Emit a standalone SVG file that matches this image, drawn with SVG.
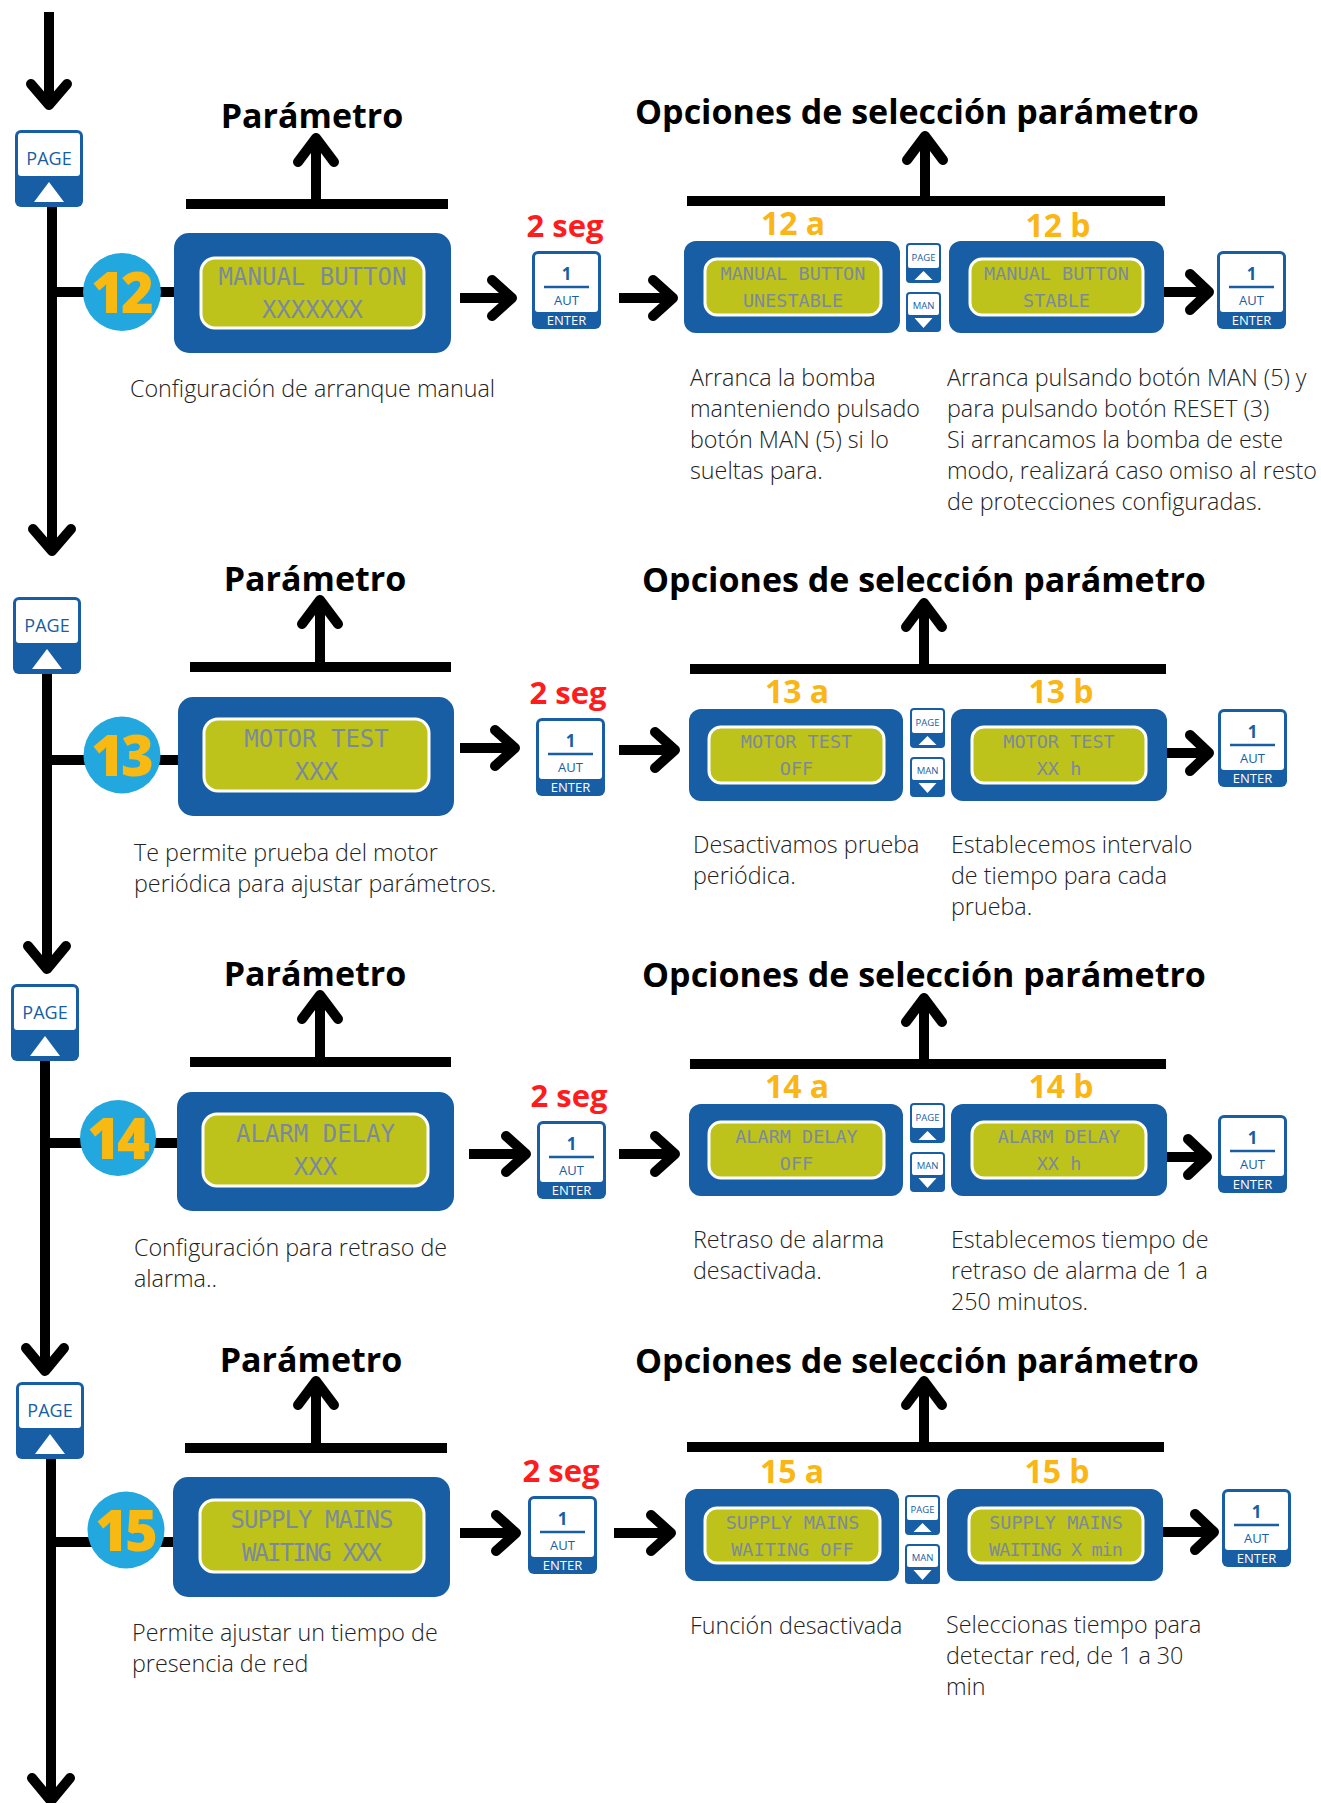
<svg xmlns="http://www.w3.org/2000/svg" xmlns:xlink="http://www.w3.org/1999/xlink" width="1321" height="1803" viewBox="0 0 1321 1803">
<style>
.ln{stroke:#000;stroke-width:10;fill:none}
.ah{stroke:#000;stroke-width:10;fill:none;stroke-linecap:round;stroke-linejoin:round}
.frame{fill:#175ea4}
.scr{fill:#bec31b;stroke:#fff;stroke-width:3}
.lcd{font-family:"DejaVu Sans Mono","Liberation Mono",monospace;fill:#7b8a9b;text-anchor:middle}
.big{font-size:24px}
.sm{font-size:18.5px}
.hdr{font-family:"Open Sans","Liberation Sans",sans-serif;font-weight:700;font-size:34px;text-anchor:middle;fill:#000}
.seg{font-family:"Open Sans","Liberation Sans",sans-serif;font-weight:700;font-size:31px;text-anchor:middle;fill:#ff1c1c}
.lab{font-family:"Open Sans","Liberation Sans",sans-serif;font-weight:700;font-size:32px;text-anchor:middle;fill:#f9b616}
.circ{fill:#22a8de}
.num{font-family:"Open Sans","Liberation Sans",sans-serif;font-weight:800;font-size:56px;text-anchor:middle;fill:#f7b912;letter-spacing:-3px}
.desc{font-family:"Open Sans","Liberation Sans",sans-serif;font-weight:300;font-size:23.3px;fill:#222}
.bt{font-family:"Open Sans","Liberation Sans",sans-serif;text-anchor:middle}
</style>
<defs>
<g id="pg">
<rect x="0" y="0" width="68" height="77" rx="6" fill="#175ea4"/>
<rect x="3" y="3" width="62" height="43" rx="3" fill="#fff"/>
<text class="bt" x="34" y="35" font-size="18" fill="#175ea4">PAGE</text>
<polygon points="34,52 49,72 19,72" fill="#fff"/>
</g>
<g id="ent">
<rect x="0" y="0" width="69" height="78" rx="6" fill="#175ea4"/>
<rect x="3" y="3" width="63" height="58" rx="3" fill="#fff"/>
<text class="bt" x="34.5" y="29" font-size="17" font-weight="700" fill="#175ea4">1</text>
<line x1="12" y1="36" x2="57" y2="36" stroke="#175ea4" stroke-width="2.5"/>
<text class="bt" x="34.5" y="54" font-size="13" fill="#175ea4">AUT</text>
<text class="bt" x="34.5" y="74" font-size="13" fill="#fff">ENTER</text>
</g>
<g id="spg">
<rect x="0" y="0" width="35" height="40" rx="4" fill="#175ea4"/>
<rect x="2" y="2" width="31" height="23" rx="2" fill="#fff"/>
<text class="bt" x="17.5" y="18" font-size="9.5" fill="#175ea4">PAGE</text>
<polygon points="17.5,28 26.5,37 8.5,37" fill="#fff"/>
</g>
<g id="sman">
<rect x="0" y="0" width="35" height="40" rx="4" fill="#175ea4"/>
<rect x="2" y="2" width="31" height="21" rx="2" fill="#fff"/>
<text class="bt" x="17.5" y="17" font-size="9.5" fill="#175ea4">MAN</text>
<polygon points="8.5,26 26.5,26 17.5,36" fill="#fff"/>
</g>
</defs>
<rect width="1321" height="1803" fill="#fff"/>

<g id="connectors">
<!-- section 12 -->
<path class="ln" d="M49,12 V104"/><path class="ah" d="M31,84 L49,105 L67,84"/>
<path class="ln" d="M52,207 V548"/><path class="ah" d="M33,529 L52,551 L71,529"/>
<path class="ln" d="M52,292 H176"/>
<path class="ln" d="M316,204 V140"/><path class="ah" d="M298,162 L316,138 L334,162"/>
<path class="ln" d="M186,204 H448"/>
<path class="ln" d="M460,298 H508"/><path class="ah" d="M492,280 L512,298 L492,316"/>
<path class="ln" d="M619,298 H669"/><path class="ah" d="M653,280 L673,298 L653,316"/>
<path class="ln" d="M925,201 V138"/><path class="ah" d="M907,160 L925,136 L943,160"/>
<path class="ln" d="M687,201 H1165"/>
<path class="ln" d="M1164,292 H1205"/><path class="ah" d="M1190,274 L1209,292 L1190,310"/>
<!-- section 13 -->
<path class="ln" d="M47,674 V966"/><path class="ah" d="M28,946 L47,969 L66,946"/>
<path class="ln" d="M47,760 H180"/>
<path class="ln" d="M320,667 V602"/><path class="ah" d="M302,624 L320,600 L338,624"/>
<path class="ln" d="M190,667 H451"/>
<path class="ln" d="M460,748 H511"/><path class="ah" d="M495,730 L515,748 L495,766"/>
<path class="ln" d="M619,750 H671"/><path class="ah" d="M655,732 L675,750 L655,768"/>
<path class="ln" d="M924,669 V605"/><path class="ah" d="M906,627 L924,603 L942,627"/>
<path class="ln" d="M690,669 H1166"/>
<path class="ln" d="M1167,753 H1205"/><path class="ah" d="M1190,735 L1209,753 L1190,771"/>
<!-- section 14 -->
<path class="ln" d="M45,1060 V1368"/><path class="ah" d="M26,1348 L45,1371 L64,1348"/>
<path class="ln" d="M45,1143 H179"/>
<path class="ln" d="M320,1062 V997"/><path class="ah" d="M302,1019 L320,995 L338,1019"/>
<path class="ln" d="M190,1062 H451"/>
<path class="ln" d="M469,1154 H521"/><path class="ah" d="M506,1136 L526,1154 L506,1172"/>
<path class="ln" d="M619,1154 H671"/><path class="ah" d="M655,1136 L675,1154 L655,1172"/>
<path class="ln" d="M924,1064 V1000"/><path class="ah" d="M906,1022 L924,998 L942,1022"/>
<path class="ln" d="M690,1064 H1166"/>
<path class="ln" d="M1167,1157 H1203"/><path class="ah" d="M1188,1139 L1207,1157 L1188,1175"/>
<!-- section 15 -->
<path class="ln" d="M51,1458 V1798"/><path class="ah" d="M32,1778 L51,1801 L70,1778"/>
<path class="ln" d="M51,1542 H175"/>
<path class="ln" d="M316,1448 V1383"/><path class="ah" d="M298,1405 L316,1381 L334,1405"/>
<path class="ln" d="M185,1448 H447"/>
<path class="ln" d="M460,1533 H512"/><path class="ah" d="M496,1515 L516,1533 L496,1551"/>
<path class="ln" d="M614,1533 H667"/><path class="ah" d="M651,1515 L671,1533 L651,1551"/>
<path class="ln" d="M924,1447 V1383"/><path class="ah" d="M906,1405 L924,1381 L942,1405"/>
<path class="ln" d="M687,1447 H1164"/>
<path class="ln" d="M1163,1532 H1210"/><path class="ah" d="M1195,1514 L1214,1532 L1195,1550"/>
</g>

<!-- ================= SECTION 12 ================= -->
<g id="page-12"><use xlink:href="#pg" href="#pg" x="15" y="130"/></g>
<g id="num-12"><circle class="circ" cx="122" cy="292" r="39"/><text class="num" x="121" y="313">12</text></g>
<g id="lcd-12">
<rect class="frame" x="174" y="233" width="277" height="120" rx="15"/>
<rect class="scr" x="201" y="258" width="223" height="70" rx="14"/>
<text class="lcd big" x="312.5" y="285">MANUAL BUTTON</text>
<text class="lcd big" x="312.5" y="318">XXXXXXX</text>
</g>
<g id="hdr-param-12"><text class="hdr" x="312" y="128">Parámetro</text></g>
<g id="seg-12"><text class="seg" x="565" y="237">2 seg</text></g>
<g id="enter-12"><use xlink:href="#ent" href="#ent" x="532" y="251"/></g>
<g id="hdr-opt-12"><text class="hdr" x="917" y="124">Opciones de selección parámetro</text></g>
<g id="lab-12a"><text class="lab" x="793" y="235">12 a</text></g>
<g id="lab-12b"><text class="lab" x="1058" y="237">12 b</text></g>
<g id="lcd-12a">
<rect class="frame" x="684" y="241" width="216" height="92" rx="12"/>
<rect class="scr" x="705" y="259" width="176" height="56" rx="12"/>
<text class="lcd sm" x="793" y="280">MANUAL BUTTON</text>
<text class="lcd sm" x="793" y="307">UNESTABLE</text>
</g>
<g id="btn-page-12"><use xlink:href="#spg" href="#spg" x="906" y="243"/></g>
<g id="btn-man-12"><use xlink:href="#sman" href="#sman" x="906" y="292"/></g>
<g id="lcd-12b">
<rect class="frame" x="949" y="241" width="215" height="92" rx="12"/>
<rect class="scr" x="970" y="259" width="173" height="56" rx="12"/>
<text class="lcd sm" x="1056.5" y="280">MANUAL BUTTON</text>
<text class="lcd sm" x="1056.5" y="307">STABLE</text>
</g>
<g id="enter-12b"><use xlink:href="#ent" href="#ent" x="1217" y="251"/></g>
<g id="desc-12">
<text class="desc" x="130" y="397">Configuración de arranque manual</text>
</g>
<g id="desc-12a">
<text class="desc" x="690" y="386">Arranca la bomba</text>
<text class="desc" x="690" y="417">manteniendo pulsado</text>
<text class="desc" x="690" y="448">botón MAN (5) si lo</text>
<text class="desc" x="690" y="479">sueltas para.</text>
</g>
<g id="desc-12b">
<text class="desc" x="947" y="386">Arranca pulsando botón MAN (5) y</text>
<text class="desc" x="947" y="417">para pulsando botón RESET (3)</text>
<text class="desc" x="947" y="448">Si arrancamos la bomba de este</text>
<text class="desc" x="947" y="479">modo, realizará caso omiso al resto</text>
<text class="desc" x="947" y="510">de protecciones configuradas.</text>
</g>

<!-- ================= SECTION 13 ================= -->
<g id="page-13"><use xlink:href="#pg" href="#pg" x="13" y="597"/></g>
<g id="num-13"><circle class="circ" cx="122" cy="755" r="38.5"/><text class="num" x="121" y="776">13</text></g>
<g id="lcd-13">
<rect class="frame" x="178" y="697" width="276" height="119" rx="15"/>
<rect class="scr" x="204" y="719" width="225" height="72" rx="14"/>
<text class="lcd big" x="316.5" y="747">MOTOR TEST</text>
<text class="lcd big" x="316.5" y="780">XXX</text>
</g>
<g id="hdr-param-13"><text class="hdr" x="315" y="591">Parámetro</text></g>
<g id="seg-13"><text class="seg" x="568" y="704">2 seg</text></g>
<g id="enter-13"><use xlink:href="#ent" href="#ent" x="536" y="718"/></g>
<g id="hdr-opt-13"><text class="hdr" x="924" y="592">Opciones de selección parámetro</text></g>
<g id="lab-13a"><text class="lab" x="797" y="703">13 a</text></g>
<g id="lab-13b"><text class="lab" x="1061" y="703">13 b</text></g>
<g id="lcd-13a">
<rect class="frame" x="689" y="709" width="214" height="92" rx="12"/>
<rect class="scr" x="709" y="727" width="175" height="56" rx="12"/>
<text class="lcd sm" x="796.5" y="748">MOTOR TEST</text>
<text class="lcd sm" x="796.5" y="775">OFF</text>
</g>
<g id="btn-page-13"><use xlink:href="#spg" href="#spg" x="910" y="708"/></g>
<g id="btn-man-13"><use xlink:href="#sman" href="#sman" x="910" y="757"/></g>
<g id="lcd-13b">
<rect class="frame" x="951" y="709" width="216" height="92" rx="12"/>
<rect class="scr" x="972" y="727" width="174" height="56" rx="12"/>
<text class="lcd sm" x="1059" y="748">MOTOR TEST</text>
<text class="lcd sm" x="1059" y="775">XX h</text>
</g>
<g id="enter-13b"><use xlink:href="#ent" href="#ent" x="1218" y="709"/></g>
<g id="desc-13">
<text class="desc" x="134" y="861">Te permite prueba del motor</text>
<text class="desc" x="134" y="892">periódica para ajustar parámetros.</text>
</g>
<g id="desc-13a">
<text class="desc" x="693" y="853">Desactivamos prueba</text>
<text class="desc" x="693" y="884">periódica.</text>
</g>
<g id="desc-13b">
<text class="desc" x="951" y="853">Establecemos intervalo</text>
<text class="desc" x="951" y="884">de tiempo para cada</text>
<text class="desc" x="951" y="915">prueba.</text>
</g>

<!-- ================= SECTION 14 ================= -->
<g id="page-14"><use xlink:href="#pg" href="#pg" x="11" y="984"/></g>
<g id="num-14"><circle class="circ" cx="118" cy="1138" r="38"/><text class="num" x="117" y="1159">14</text></g>
<g id="lcd-14">
<rect class="frame" x="177" y="1092" width="277" height="119" rx="15"/>
<rect class="scr" x="203" y="1114" width="225" height="72" rx="14"/>
<text class="lcd big" x="315.5" y="1142">ALARM DELAY</text>
<text class="lcd big" x="315.5" y="1175">XXX</text>
</g>
<g id="hdr-param-14"><text class="hdr" x="315" y="986">Parámetro</text></g>
<g id="seg-14"><text class="seg" x="569" y="1107">2 seg</text></g>
<g id="enter-14"><use xlink:href="#ent" href="#ent" x="537" y="1121"/></g>
<g id="hdr-opt-14"><text class="hdr" x="924" y="987">Opciones de selección parámetro</text></g>
<g id="lab-14a"><text class="lab" x="797" y="1098">14 a</text></g>
<g id="lab-14b"><text class="lab" x="1061" y="1098">14 b</text></g>
<g id="lcd-14a">
<rect class="frame" x="689" y="1104" width="214" height="92" rx="12"/>
<rect class="scr" x="709" y="1122" width="175" height="56" rx="12"/>
<text class="lcd sm" x="796.5" y="1143">ALARM DELAY</text>
<text class="lcd sm" x="796.5" y="1170">OFF</text>
</g>
<g id="btn-page-14"><use xlink:href="#spg" href="#spg" x="910" y="1103"/></g>
<g id="btn-man-14"><use xlink:href="#sman" href="#sman" x="910" y="1152"/></g>
<g id="lcd-14b">
<rect class="frame" x="951" y="1104" width="216" height="92" rx="12"/>
<rect class="scr" x="972" y="1122" width="174" height="56" rx="12"/>
<text class="lcd sm" x="1059" y="1143">ALARM DELAY</text>
<text class="lcd sm" x="1059" y="1170">XX h</text>
</g>
<g id="enter-14b"><use xlink:href="#ent" href="#ent" x="1218" y="1115"/></g>
<g id="desc-14">
<text class="desc" x="134" y="1256">Configuración para retraso de</text>
<text class="desc" x="134" y="1287">alarma..</text>
</g>
<g id="desc-14a">
<text class="desc" x="693" y="1248">Retraso de alarma</text>
<text class="desc" x="693" y="1279">desactivada.</text>
</g>
<g id="desc-14b">
<text class="desc" x="951" y="1248">Establecemos tiempo de</text>
<text class="desc" x="951" y="1279">retraso de alarma de 1 a</text>
<text class="desc" x="951" y="1310">250 minutos.</text>
</g>

<!-- ================= SECTION 15 ================= -->
<g id="page-15"><use xlink:href="#pg" href="#pg" x="16" y="1382"/></g>
<g id="num-15"><circle class="circ" cx="126" cy="1530" r="38.5"/><text class="num" x="125" y="1551">15</text></g>
<g id="lcd-15">
<rect class="frame" x="173" y="1477" width="277" height="120" rx="15"/>
<rect class="scr" x="200" y="1500" width="224" height="72" rx="14"/>
<text class="lcd big" x="312" y="1528" textLength="163">SUPPLY MAINS</text>
<text class="lcd big" x="312" y="1561" textLength="140">WAITING XXX</text>
</g>
<g id="hdr-param-15"><text class="hdr" x="311" y="1372">Parámetro</text></g>
<g id="seg-15"><text class="seg" x="561" y="1482">2 seg</text></g>
<g id="enter-15"><use xlink:href="#ent" href="#ent" x="528" y="1496"/></g>
<g id="hdr-opt-15"><text class="hdr" x="917" y="1373">Opciones de selección parámetro</text></g>
<g id="lab-15a"><text class="lab" x="792" y="1483">15 a</text></g>
<g id="lab-15b"><text class="lab" x="1057" y="1483">15 b</text></g>
<g id="lcd-15a">
<rect class="frame" x="685" y="1489" width="214" height="92" rx="12"/>
<rect class="scr" x="705" y="1508" width="175" height="55" rx="12"/>
<text class="lcd sm" x="792.5" y="1529">SUPPLY MAINS</text>
<text class="lcd sm" x="792.5" y="1556">WAITING OFF</text>
</g>
<g id="btn-page-15"><use xlink:href="#spg" href="#spg" x="905" y="1495"/></g>
<g id="btn-man-15"><use xlink:href="#sman" href="#sman" x="905" y="1544"/></g>
<g id="lcd-15b">
<rect class="frame" x="947" y="1489" width="216" height="92" rx="12"/>
<rect class="scr" x="969" y="1508" width="174" height="55" rx="12"/>
<text class="lcd sm" x="1056" y="1529">SUPPLY MAINS</text>
<text class="lcd sm" x="1056" y="1556" textLength="134">WAITING X min</text>
</g>
<g id="enter-15b"><use xlink:href="#ent" href="#ent" x="1222" y="1489"/></g>
<g id="desc-15">
<text class="desc" x="132" y="1641">Permite ajustar un tiempo de</text>
<text class="desc" x="132" y="1672">presencia de red</text>
</g>
<g id="desc-15a">
<text class="desc" x="690" y="1634">Función desactivada</text>
</g>
<g id="desc-15b">
<text class="desc" x="946" y="1633">Seleccionas tiempo para</text>
<text class="desc" x="946" y="1664">detectar red, de 1 a 30</text>
<text class="desc" x="946" y="1695">min</text>
</g>
</svg>
